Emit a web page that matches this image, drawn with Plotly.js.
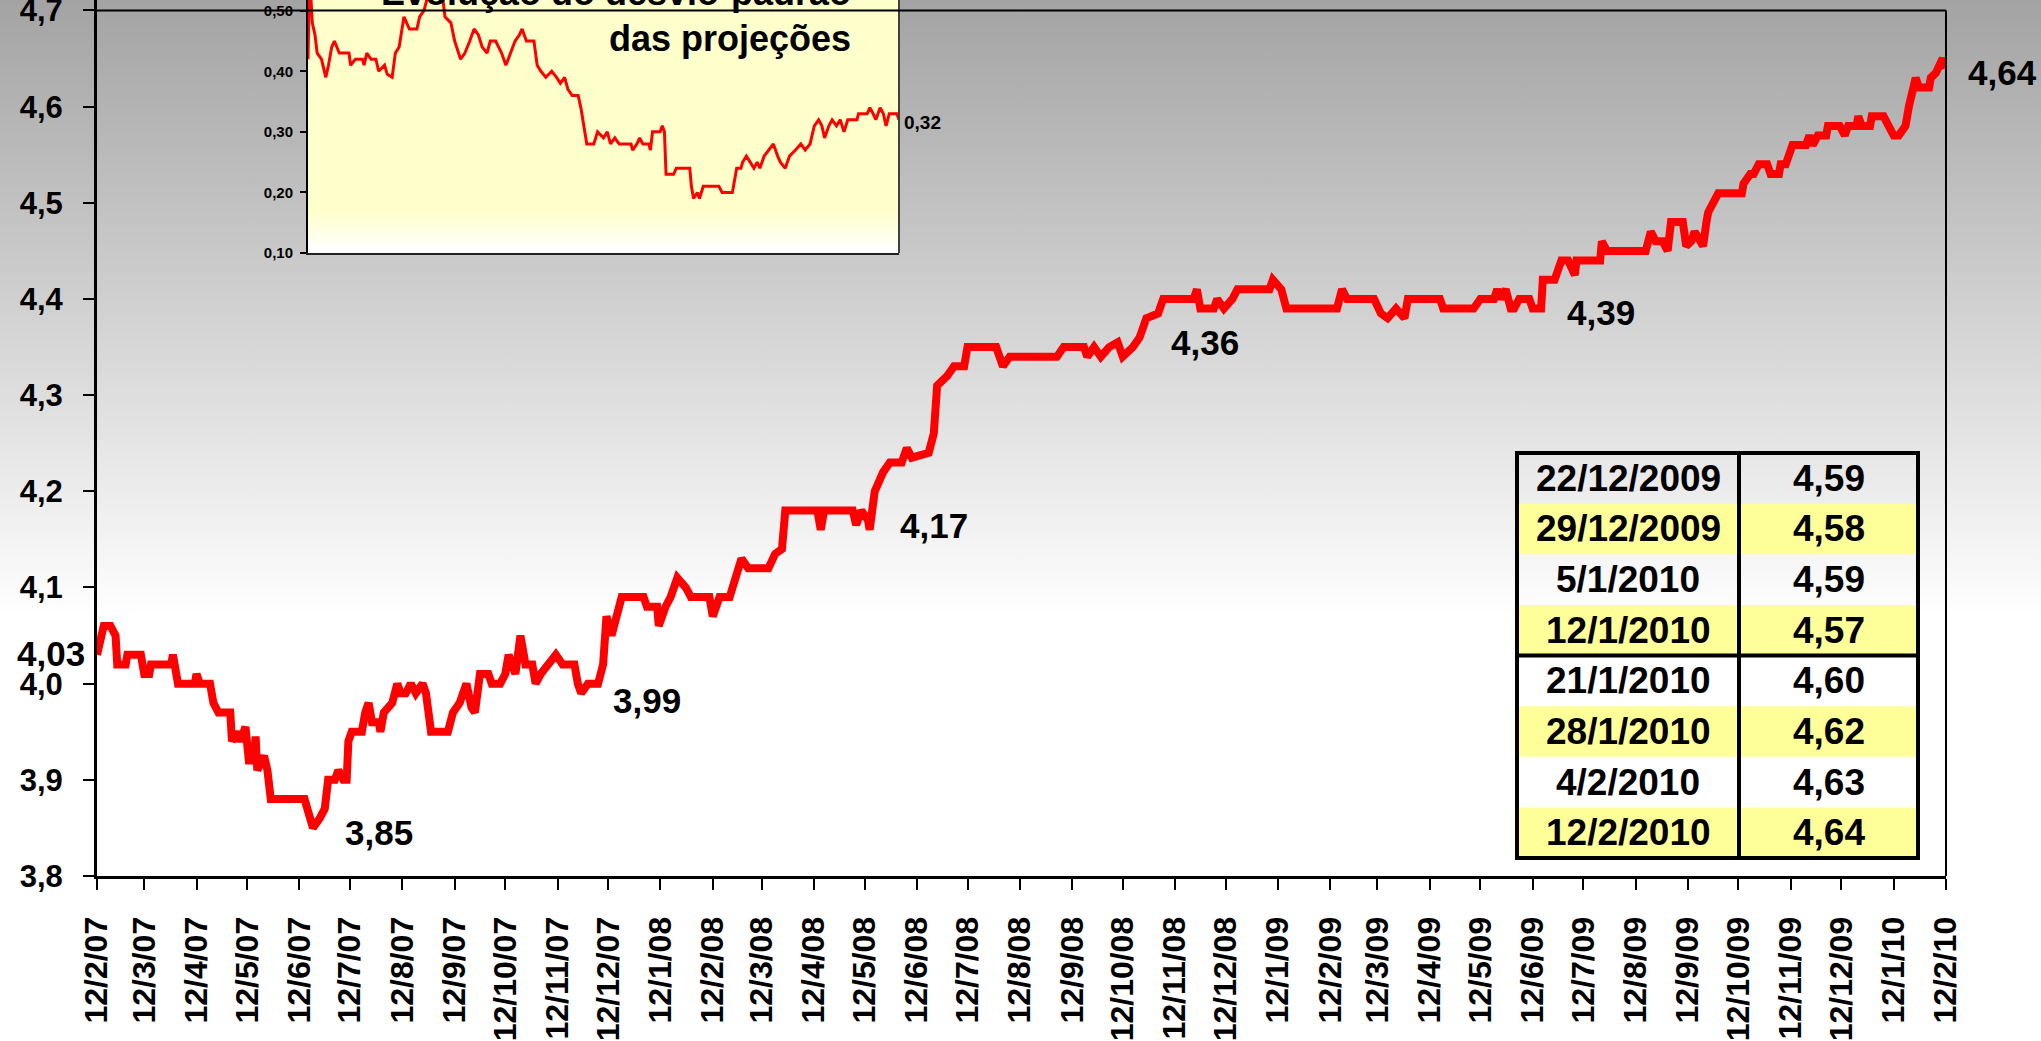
<!DOCTYPE html>
<html><head><meta charset="utf-8">
<script src="https://cdn.plot.ly/plotly-3.0.1.min.js"></script>
<style>
html,body{margin:0;padding:0;}
#chart{width:2041px;height:1041px;background:linear-gradient(to bottom,#a3a3a3 0px,#ffffff 620px,#ffffff 1041px);}
</style></head><body><div id="chart"></div>
<script>
// ---- main series: expected value of projections ----
const mainDates = [
'2007-02-12','2007-02-14','2007-02-16','2007-02-20','2007-02-23','2007-02-24','2007-03-01','2007-03-02','2007-03-10','2007-03-12',
'2007-03-15','2007-03-16','2007-03-28','2007-03-29','2007-04-01','2007-04-11','2007-04-12','2007-04-14','2007-04-20','2007-04-22',
'2007-04-25','2007-05-02','2007-05-03','2007-05-06','2007-05-08','2007-05-11','2007-05-13','2007-05-16','2007-05-17','2007-05-18',
'2007-05-22','2007-05-24','2007-05-26','2007-06-15','2007-06-18','2007-06-20','2007-06-24','2007-06-27','2007-06-29','2007-07-03',
'2007-07-05','2007-07-08','2007-07-10','2007-07-11','2007-07-13','2007-07-19','2007-07-21','2007-07-23','2007-07-25','2007-07-29',
'2007-07-30','2007-08-01','2007-08-06','2007-08-09','2007-08-11','2007-08-14','2007-08-17','2007-08-20','2007-08-24','2007-08-26',
'2007-08-29','2007-09-08','2007-09-11','2007-09-15','2007-09-19','2007-09-22','2007-09-24','2007-09-27','2007-10-02','2007-10-04',
'2007-10-09','2007-10-12','2007-10-14','2007-10-18','2007-10-21','2007-10-24','2007-10-28','2007-10-30','2007-11-02','2007-11-07',
'2007-11-11','2007-11-15','2007-11-22','2007-11-24','2007-11-26','2007-11-30','2007-12-06','2007-12-09','2007-12-11','2007-12-14',
'2007-12-18','2007-12-20','2008-01-02','2008-01-04','2008-01-10','2008-01-11','2008-01-15','2008-01-18','2008-01-22','2008-01-27',
'2008-01-30','2008-02-10','2008-02-12','2008-02-16','2008-02-22','2008-02-26','2008-02-29','2008-03-04','2008-03-16','2008-03-20',
'2008-03-24','2008-03-26','2008-04-14','2008-04-16','2008-04-18','2008-05-05','2008-05-07','2008-05-10','2008-05-14','2008-05-15',
'2008-05-18','2008-05-23','2008-05-27','2008-06-03','2008-06-06','2008-06-09','2008-06-19','2008-06-22','2008-06-24','2008-06-30',
'2008-07-04','2008-07-10','2008-07-12','2008-07-29','2008-08-02','2008-08-06','2008-09-03','2008-09-07','2008-09-19','2008-09-21',
'2008-09-25','2008-09-29','2008-10-04','2008-10-09','2008-10-12','2008-10-18','2008-10-22','2008-10-26','2008-11-02','2008-11-05',
'2008-11-23','2008-11-25','2008-11-27','2008-12-05','2008-12-07','2008-12-11','2008-12-16','2008-12-19','2009-01-07','2009-01-09',
'2009-01-14','2009-01-17','2009-02-16','2009-02-19','2009-02-22','2009-03-10','2009-03-14','2009-03-18','2009-03-23','2009-03-28',
'2009-03-30','2009-04-18','2009-04-20','2009-05-08','2009-05-12','2009-05-20','2009-05-22','2009-05-24','2009-05-27','2009-05-30',
'2009-06-01','2009-06-04','2009-06-10','2009-06-12','2009-06-17','2009-06-18','2009-06-25','2009-06-29','2009-07-03','2009-07-07',
'2009-07-08','2009-07-22','2009-07-23','2009-07-26','2009-08-18','2009-08-21','2009-08-24','2009-08-28','2009-08-31','2009-09-02',
'2009-09-09','2009-09-11','2009-09-14','2009-09-16','2009-09-21','2009-09-23','2009-09-24','2009-09-27','2009-09-30','2009-10-14',
'2009-10-15','2009-10-19','2009-10-21','2009-10-24','2009-10-29','2009-10-31','2009-11-05','2009-11-06','2009-11-09','2009-11-11',
'2009-11-13','2009-11-21','2009-11-23','2009-11-25','2009-11-28','2009-12-03','2009-12-04','2009-12-11','2009-12-14','2009-12-16',
'2009-12-21','2009-12-22','2009-12-24','2009-12-29','2009-12-30','2010-01-06','2010-01-09','2010-01-12','2010-01-15','2010-01-19',
'2010-01-21','2010-01-25','2010-01-27','2010-02-02','2010-02-03','2010-02-06','2010-02-10','2010-02-12'
];
const mainValues = [
4.03,4.05,4.06,4.06,4.05,4.02,4.02,4.03,4.03,4.01,
4.01,4.02,4.02,4.03,4.00,4.00,4.01,4.00,4.00,3.98,
3.97,3.97,3.94,3.95,3.94,3.955,3.92,3.92,3.945,3.91,
3.925,3.91,3.88,3.88,3.86,3.85,3.86,3.87,3.90,3.90,
3.91,3.90,3.90,3.94,3.95,3.95,3.97,3.98,3.96,3.96,
3.95,3.97,3.98,4.00,3.99,3.99,4.00,3.99,4.00,3.99,
3.95,3.95,3.97,3.98,4.00,3.975,3.97,4.01,4.01,4.00,
4.00,4.01,4.03,4.01,4.05,4.02,4.02,4.00,4.01,4.02,
4.03,4.02,4.02,4.00,3.99,4.00,4.00,4.02,4.07,4.05,
4.08,4.09,4.09,4.08,4.08,4.06,4.08,4.09,4.11,4.10,
4.09,4.09,4.07,4.09,4.09,4.11,4.13,4.12,4.12,4.135,
4.14,4.18,4.18,4.16,4.18,4.18,4.165,4.18,4.17,4.16,
4.20,4.22,4.23,4.23,4.245,4.235,4.24,4.26,4.31,4.32,
4.33,4.33,4.35,4.35,4.33,4.34,4.34,4.35,4.35,4.34,
4.35,4.34,4.35,4.355,4.34,4.35,4.36,4.38,4.385,4.40,
4.40,4.41,4.39,4.39,4.40,4.39,4.40,4.41,4.41,4.42,
4.41,4.39,4.39,4.41,4.40,4.40,4.385,4.38,4.39,4.38,
4.40,4.40,4.39,4.39,4.40,4.40,4.41,4.40,4.41,4.39,
4.39,4.40,4.40,4.39,4.39,4.42,4.42,4.44,4.44,4.425,
4.44,4.44,4.46,4.45,4.45,4.47,4.46,4.46,4.45,4.48,
4.48,4.455,4.46,4.47,4.455,4.48,4.49,4.50,4.51,4.51,
4.52,4.53,4.53,4.54,4.54,4.53,4.53,4.54,4.54,4.55,
4.56,4.56,4.57,4.56,4.57,4.57,4.58,4.58,4.57,4.58,
4.58,4.59,4.58,4.58,4.59,4.59,4.578,4.57,4.57,4.58,
4.60,4.63,4.62,4.62,4.63,4.635,4.65,4.64
];

// ---- inset series: standard deviation of projections ----
const insetDates = [
'2007-02-12','2007-02-15','2007-02-20','2007-02-25','2007-03-01','2007-03-09','2007-03-17','2007-03-22','2007-03-28','2007-04-02',
'2007-04-11','2007-04-29','2007-05-02','2007-05-11','2007-05-24','2007-05-27','2007-06-01','2007-06-09','2007-06-18','2007-06-23',
'2007-07-04','2007-07-09','2007-07-18','2007-07-24','2007-07-31','2007-08-09','2007-08-19','2007-09-02','2007-09-07','2007-09-15',
'2007-09-21','2007-10-05','2007-10-20','2007-10-24','2007-11-04','2007-11-11','2007-11-22','2007-11-30','2007-12-09','2007-12-17',
'2007-12-25','2008-01-01','2008-01-10','2008-01-16','2008-01-26','2008-02-01','2008-02-06','2008-02-14','2008-02-23','2008-03-02',
'2008-03-10','2008-03-15','2008-03-23','2008-04-06','2008-04-12','2008-04-19','2008-04-28','2008-05-09','2008-05-18','2008-05-25',
'2008-06-02','2008-06-08','2008-06-16','2008-06-27','2008-07-02','2008-07-11','2008-07-13','2008-07-26','2008-08-02','2008-08-13',
'2008-08-20','2008-08-26','2008-09-03','2008-09-11','2008-10-03','2008-10-06','2008-10-14','2008-10-19','2008-10-25','2008-11-05',
'2008-11-08','2008-11-12','2008-11-26','2008-11-30','2008-12-04','2008-12-07','2008-12-21','2008-12-26','2009-01-20','2009-01-23',
'2009-01-27','2009-02-03','2009-02-07','2009-02-14','2009-03-15','2009-03-21','2009-04-09','2009-04-17','2009-04-25','2009-04-28',
'2009-05-05','2009-05-12','2009-05-19','2009-05-25','2009-05-30','2009-06-07','2009-06-16','2009-06-24','2009-07-02','2009-07-07',
'2009-07-16','2009-07-24','2009-08-04','2009-08-14','2009-08-22','2009-08-31','2009-09-08','2009-09-16','2009-09-22','2009-09-27',
'2009-10-05','2009-10-11','2009-10-19','2009-10-26','2009-11-02','2009-11-09','2009-11-26','2009-11-29','2009-12-15','2009-12-20',
'2009-12-26','2009-12-31','2010-01-08','2010-01-14','2010-01-19','2010-01-25','2010-02-08','2010-02-12'
];
const insetValues = [
0.42,0.56,0.48,0.46,0.43,0.42,0.39,0.41,0.44,0.45,
0.43,0.43,0.41,0.42,0.42,0.41,0.43,0.42,0.42,0.40,
0.41,0.395,0.39,0.43,0.44,0.49,0.47,0.47,0.49,0.50,
0.52,0.53,0.52,0.49,0.48,0.45,0.42,0.43,0.45,0.47,
0.46,0.44,0.43,0.45,0.45,0.44,0.43,0.41,0.43,0.45,
0.46,0.47,0.45,0.45,0.41,0.40,0.39,0.40,0.39,0.38,
0.39,0.37,0.36,0.36,0.34,0.29,0.28,0.28,0.30,0.29,
0.30,0.28,0.29,0.28,0.28,0.27,0.28,0.29,0.28,0.28,
0.27,0.30,0.30,0.31,0.30,0.23,0.23,0.24,0.24,0.21,
0.19,0.20,0.19,0.21,0.21,0.20,0.20,0.24,0.24,0.25,
0.26,0.25,0.24,0.25,0.24,0.26,0.27,0.28,0.26,0.25,
0.24,0.26,0.27,0.28,0.27,0.28,0.31,0.32,0.31,0.29,
0.31,0.32,0.31,0.32,0.30,0.32,0.32,0.33,0.33,0.34,
0.33,0.32,0.34,0.33,0.31,0.33,0.33,0.32
];

// ---- highlighted values on the main line ----
const labelDates  = ['2007-02-12','2007-06-20','2007-11-26','2008-05-15','2008-10-22','2009-06-17','2010-02-12'];
const labelValues = [4.03, 3.85, 3.99, 4.17, 4.36, 4.39, 4.64];
const labelShiftX = [-46, 66, 66, 64, 65, 60, 56];
const labelShiftY = [1, -5, -7, -5, -5, -4, -4];

// ---- side table ----
const tableDates  = ['22/12/2009','29/12/2009','5/1/2010','12/1/2010','21/1/2010','28/1/2010','4/2/2010','12/2/2010'];
const tableValues = [4.59, 4.58, 4.59, 4.57, 4.60, 4.62, 4.63, 4.64];

const insetTitle = ['Evolução do desvio-padrão', 'das projeções'];

// ---- layout geometry ----
const W = 2041, H = 1041, L = 97, R = 95, T = 0, B = 165;
const plotW = W - L - R, plotH = H - T - B;
const px2x = p => (p - L) / plotW;
const py2y = p => (H - B - p) / plotH;
const FONT = 'Liberation Sans, Arial, sans-serif';
const fmt = (v, d) => v.toFixed(d).replace('.', ',');

const traces = [
  {x: mainDates, y: mainValues, mode: 'lines', xaxis: 'x', yaxis: 'y',
   line: {color: '#ff0000', width: 8}, hoverinfo: 'skip', showlegend: false},
  {x: insetDates, y: insetValues, mode: 'lines', xaxis: 'x2', yaxis: 'y2',
   line: {color: '#ff0000', width: 3}, hoverinfo: 'skip', showlegend: false}
];

const shapes = [];
// inset background (light yellow fading to white at the bottom)
shapes.push({type: 'rect', xref: 'x2 domain', yref: 'y2 domain', x0: 0, x1: 1, y0: 0, y1: 1,
  fillcolor: '#ffffcc', line: {width: 0}, layer: 'below'});
const nb = 10;
for (let i = 0; i < nb; i++) {
  const t = i / nb;
  const b = Math.round(255 - (255 - 204) * t);
  shapes.push({type: 'rect', xref: 'x2 domain', yref: 'y2 domain', x0: 0, x1: 1,
    y0: i * 0.016, y1: (i + 1) * 0.016, fillcolor: `rgb(255,255,${b})`, line: {width: 0}, layer: 'below'});
}
shapes.push({type: 'line', xref: 'x2 domain', yref: 'y2 domain', x0: 1, x1: 1, y0: 0, y1: 1,
  line: {color: '#404040', width: 2}});
// main frame (top and right)
shapes.push({type: 'line', xref: 'x domain', yref: 'y', x0: 0, x1: 1, y0: 4.7, y1: 4.7, line: {color: '#000', width: 2}});
shapes.push({type: 'line', xref: 'x domain', yref: 'y', x0: 1, x1: 1, y0: 3.8, y1: 4.7, line: {color: '#000', width: 2}});

// table
const tL = 1517, tM = 1739, tR = 1918, tTop = 453, tBot = 858;
const rowH = (tBot - tTop) / tableDates.length;
tableDates.forEach((d, i) => {
  if (i % 2 === 1) {
    shapes.push({type: 'rect', xref: 'paper', yref: 'paper', x0: px2x(tL), x1: px2x(tR),
      y0: py2y(tTop + (i + 1) * rowH), y1: py2y(tTop + i * rowH), fillcolor: '#ffff99', line: {width: 0}});
  }
});
shapes.push({type: 'rect', xref: 'paper', yref: 'paper', x0: px2x(tL), x1: px2x(tR), y0: py2y(tBot), y1: py2y(tTop),
  line: {color: '#000', width: 4}});
shapes.push({type: 'line', xref: 'paper', yref: 'paper', x0: px2x(tM), x1: px2x(tM), y0: py2y(tBot), y1: py2y(tTop),
  line: {color: '#000', width: 4}});
const mid = tTop + rowH * tableDates.length / 2;
shapes.push({type: 'line', xref: 'paper', yref: 'paper', x0: px2x(tL), x1: px2x(tR), y0: py2y(mid), y1: py2y(mid),
  line: {color: '#000', width: 4}});

const annotations = [];
tableDates.forEach((d, i) => {
  const yc = py2y(tTop + (i + 0.5) * rowH);
  annotations.push({xref: 'paper', yref: 'paper', x: px2x((tL + tM) / 2), y: yc, text: d, showarrow: false,
    xanchor: 'center', yanchor: 'middle', font: {family: FONT, size: 37, weight: 'bold', color: '#000'}});
  annotations.push({xref: 'paper', yref: 'paper', x: px2x((tM + tR) / 2), y: yc, text: fmt(tableValues[i], 2), showarrow: false,
    xanchor: 'center', yanchor: 'middle', font: {family: FONT, size: 37, weight: 'bold', color: '#000'}});
});
labelDates.forEach((d, i) => {
  annotations.push({xref: 'x', yref: 'y', x: d, y: labelValues[i], text: fmt(labelValues[i], 2), showarrow: false,
    xanchor: 'center', yanchor: 'middle', xshift: labelShiftX[i], yshift: labelShiftY[i],
    font: {family: FONT, size: 35, weight: 'bold', color: '#000'}});
});
// inset last value
annotations.push({xref: 'x2', yref: 'y2', x: insetDates[insetDates.length - 1], y: insetValues[insetValues.length - 1],
  text: fmt(insetValues[insetValues.length - 1], 2), showarrow: false, xanchor: 'left', yanchor: 'middle', xshift: 3, yshift: -3,
  font: {family: FONT, size: 19, weight: 'bold', color: '#000'}});
// inset title (first line mostly cut by the top edge)
annotations.push({xref: 'paper', yref: 'paper', x: px2x(853), y: py2y(-7), text: insetTitle[0], showarrow: false,
  xanchor: 'right', yanchor: 'middle', font: {family: FONT, size: 36, weight: 'bold', color: '#000'}});
annotations.push({xref: 'paper', yref: 'paper', x: px2x(853), y: py2y(38), text: insetTitle[1], showarrow: false,
  xanchor: 'right', yanchor: 'middle', font: {family: FONT, size: 36, weight: 'bold', color: '#000'}});

const layout = {
  width: W, height: H,
  margin: {l: L, r: R, t: T, b: B, pad: 0},
  paper_bgcolor: 'rgba(0,0,0,0)', plot_bgcolor: 'rgba(0,0,0,0)',
  separators: ',.',
  hovermode: false,
  showlegend: false,
  xaxis: {
    type: 'date', range: ['2007-02-12', '2010-02-12'],
    tick0: '2007-02-12', dtick: 'M1', tickformat: '%-d/%-m/%y', tickangle: -90,
    ticks: 'outside', ticklen: 11, tickwidth: 2, tickcolor: '#000',
    showline: true, linecolor: '#000', linewidth: 3, showgrid: false, zeroline: false,
    ticklabelstandoff: 14, ticklabeloverflow: 'allow',
    tickfont: {family: FONT, size: 32, weight: 'bold', color: '#000'}
  },
  yaxis: {
    range: [3.8, 4.7109], tick0: 3.8, dtick: 0.1, tickformat: '.1f',
    ticks: 'outside', ticklen: 11, tickwidth: 2, tickcolor: '#000',
    showline: true, linecolor: '#000', linewidth: 3, showgrid: false, zeroline: false,
    ticklabelstandoff: 14, ticklabeloverflow: 'allow',
    tickfont: {family: FONT, size: 31, weight: 'bold', color: '#000'}
  },
  xaxis2: {
    type: 'date', range: ['2007-02-12', '2010-02-12'], anchor: 'y2',
    domain: [px2x(308), px2x(899)],
    showticklabels: false, ticks: '', showline: true, linecolor: '#222', linewidth: 2,
    showgrid: false, zeroline: false
  },
  yaxis2: {
    range: [0.10, 0.5177], anchor: 'x2', domain: [py2y(253), 1],
    tick0: 0.1, dtick: 0.1, tickformat: '.2f',
    ticks: 'outside', ticklen: 6, tickwidth: 2, tickcolor: '#000',
    showline: true, linecolor: '#000', linewidth: 2, showgrid: false, zeroline: false,
    ticklabelstandoff: 4, ticklabeloverflow: 'allow',
    tickfont: {family: FONT, size: 15, weight: 'bold', color: '#000'}
  },
  shapes: shapes,
  annotations: annotations
};

Plotly.newPlot('chart', traces, layout, {displayModeBar: false, staticPlot: true});
</script></body></html>
